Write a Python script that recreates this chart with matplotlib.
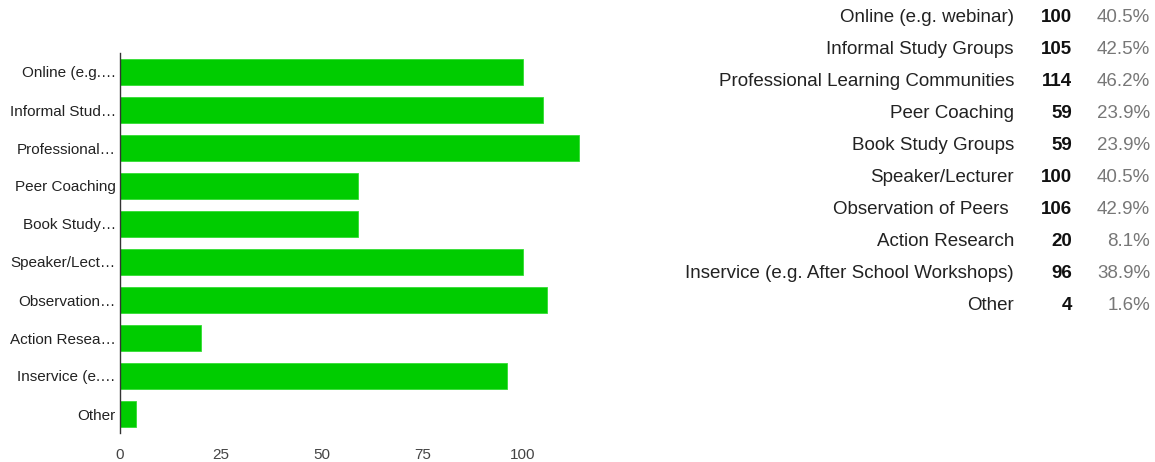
# Horizontal bar chart of professional development formats, with a count/percent table.

import matplotlib.pyplot as plt

plt.rcParams["font.family"] = ["Liberation Sans", "DejaVu Sans"]

# Survey data
categories = [
    "Online (e.g. webinar)",
    "Informal Study Groups",
    "Professional Learning Communities",
    "Peer Coaching",
    "Book Study Groups",
    "Speaker/Lecturer",
    "Observation of Peers ",
    "Action Research",
    "Inservice (e.g. After School Workshops)",
    "Other",
]
short_labels = [
    "Online (e.g.…",
    "Informal Stud…",
    "Professional…",
    "Peer Coaching",
    "Book Study…",
    "Speaker/Lect…",
    "Observation…",
    "Action Resea…",
    "Inservice (e.…",
    "Other",
]
counts = [100, 105, 114, 59, 59, 100, 106, 20, 96, 4]
respondents = 247
x_ticks = [0, 25, 50, 75, 100]

W, H = 1155, 462
fig = plt.figure(figsize=(W / 100, H / 100), dpi=100)

# Bar chart on the left
left, top, bottom = 120, 53, 433
px_per_unit = 4.03
xmax = 125
ax = fig.add_axes([left / W, 1 - bottom / H, xmax * px_per_unit / W, (bottom - top) / H])
y = list(range(len(categories)))
ax.barh(y, counts, height=0.71, color="#00cc00", edgecolor="#33dd33", linewidth=0.6)
ax.set_ylim(len(categories) - 0.5, -0.5)
ax.set_xlim(0, xmax)
ax.set_yticks(y)
ax.set_yticklabels(short_labels, fontsize=11, color="#222222")
ax.set_xticks(x_ticks)
ax.set_xticklabels([str(t) for t in x_ticks], fontsize=11, color="#444444")
ax.tick_params(axis="both", length=0)
ax.tick_params(axis="y", pad=3)
ax.tick_params(axis="x", pad=11)
for side in ["top", "right", "bottom"]:
    ax.spines[side].set_visible(False)
ax.spines["left"].set_color("#333333")
ax.spines["left"].set_linewidth(1.0)

# Summary table on the right
t_top, t_bottom = 1, 321
tab = fig.add_axes([0, 1 - t_bottom / H, 1, (t_bottom - t_top) / H])
tab.set_xlim(0, W)
tab.set_ylim(len(categories) - 0.5, -0.5)
tab.axis("off")
for i, (name, n) in enumerate(zip(categories, counts)):
    pct = 100 * n / respondents
    tab.text(1014, i, name, ha="right", va="center", fontsize=13.5, color="#222222")
    tab.text(1072, i, str(n), ha="right", va="center", fontsize=13.5,
             fontweight="bold", color="#111111")
    tab.text(1150, i, f"{pct:.1f}%", ha="right", va="center", fontsize=13.5,
             color="#777777")

fig.savefig("out.png", dpi=100)
